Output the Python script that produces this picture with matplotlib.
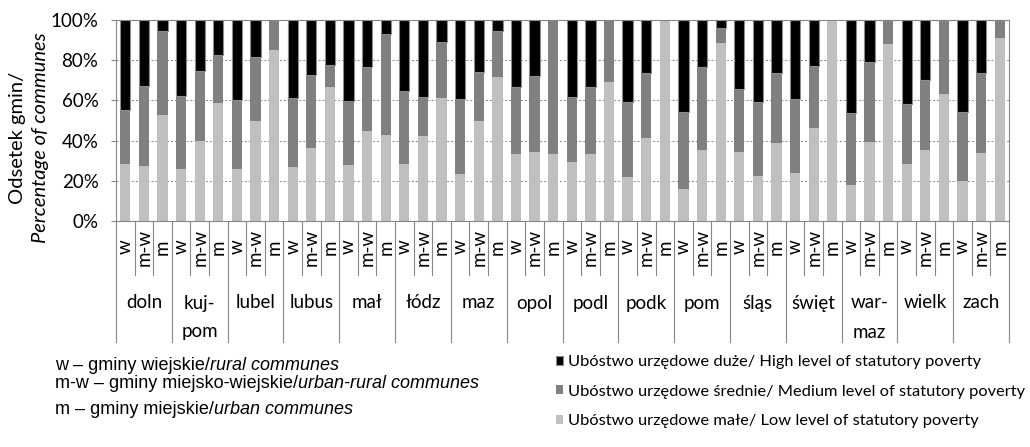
import matplotlib
matplotlib.use("Agg")
import matplotlib.pyplot as plt
import numpy as np

# data, % of communes
regions = ['doln', 'kuj-\npom', 'lubel', 'lubus', 'mał', 'łódz', 'maz', 'opol',
           'podl', 'podk', 'pom', 'śląs', 'święt', 'war-\nmaz', 'wielk', 'zach']
types = ['w', 'm-w', 'm']

low = [28.2, 27.2, 52.7, 26.1, 39.9, 58.8, 25.7, 49.8, 85.0, 26.9, 36.4, 66.6,
       27.9, 44.7, 42.7, 28.6, 42.2, 61.1, 23.4, 50.0, 71.6, 33.2, 34.2, 33.2,
       29.2, 33.2, 69.3, 21.9, 41.4, 100.0, 15.8, 35.2, 88.4, 34.2, 22.6, 38.7,
       23.9, 46.3, 100.0, 17.8, 39.4, 87.9, 28.2, 35.4, 63.1, 19.8, 33.9, 91.0]
medium = [26.9, 39.9, 41.8, 36.0, 34.5, 23.6, 34.4, 31.9, 15.0, 34.2, 36.4, 11.0,
          31.6, 31.9, 50.3, 36.2, 19.4, 27.8, 37.4, 24.3, 22.9, 33.6, 37.7, 66.8,
          32.6, 33.6, 30.7, 37.2, 32.4, 0.0, 38.2, 41.2, 7.6, 31.4, 36.7, 35.1,
          36.7, 30.8, 0.0, 35.7, 39.7, 12.1, 29.8, 34.7, 36.9, 34.2, 39.9, 9.0]
high = [44.9, 32.9, 5.5, 37.9, 25.6, 17.6, 39.9, 18.3, 0.0, 38.9, 27.2, 22.4,
        40.5, 23.4, 7.0, 35.2, 38.4, 11.1, 39.2, 25.7, 5.5, 33.2, 28.1, 0.0,
        38.2, 33.2, 0.0, 40.9, 26.2, 0.0, 46.0, 23.6, 4.0, 34.4, 40.7, 26.2,
        39.4, 22.9, 0.0, 46.5, 20.9, 0.0, 42.0, 29.9, 0.0, 46.0, 26.2, 0.0]

series_labels = ['Ubóstwo urzędowe duże/ High level of statutory poverty',
                 'Ubóstwo urzędowe średnie/ Medium level of statutory poverty',
                 'Ubóstwo urzędowe małe/ Low level of statutory poverty']
notes = [('w – gminy wiejskie/', 'rural communes'),
         ('m-w – gminy miejsko-wiejskie/', 'urban-rural communes'),
         ('m – gminy miejskie/', 'urban communes')]

W, H = 1030, 447
GRAY = '#868686'
FONT = 'Lato'

fig = plt.figure(figsize=(W / 100, H / 100), dpi=100)
ax = fig.add_axes([116 / W, 1 - 221 / H, (1009 - 116) / W, (221 - 20) / H])

x = np.arange(len(low))
low = np.array(low)
medium = np.array(medium)
high = np.array(high)
b_low = ax.bar(x, low, 0.55, color='#bfbfbf', zorder=2)
b_med = ax.bar(x, medium, 0.55, bottom=low, color='#808080', zorder=2)
b_high = ax.bar(x, high, 0.55, bottom=low + medium, color='black',
                edgecolor='#8c8c8c', linewidth=0.8, zorder=2)

ax.set_xlim(-0.5, len(low) - 0.5)
ax.set_ylim(0, 100)
ax.set_yticks(range(0, 101, 20))
ax.set_yticklabels([f'{v}%' for v in range(0, 101, 20)], fontfamily=FONT, fontsize=13.5)
ax.tick_params(axis='y', length=3.6, color=GRAY, width=0.8, pad=9)
ax.set_xticks([])
for s in ax.spines.values():
    s.set_color(GRAY)
    s.set_linewidth(0.8)
ax.yaxis.grid(True, color=GRAY, linestyle=(0, (2, 2)), linewidth=0.7, zorder=0)

# multi-level category axis
trans = ax.get_xaxis_transform()
def yfrac(py):
    return (221 - py) / 201

for g, reg in enumerate(regions):
    x0 = g * 3 - 0.5
    ax.plot([x0, x0], [0, yfrac(342)], transform=trans, clip_on=False,
            color=GRAY, lw=0.8)
    for k in (1, 2):
        ax.plot([x0 + k, x0 + k], [0, yfrac(275)], transform=trans,
                clip_on=False, color=GRAY, lw=0.8)
    for k, t in enumerate(types):
        ax.text(g * 3 + k, yfrac(247), t, transform=trans, rotation=90,
                ha='center', va='center', fontfamily=FONT, fontsize=13.5)
    for i, line in enumerate(reg.split('\n')):
        ax.text(g * 3 + 1, yfrac(303 + 29 * i), line, transform=trans,
                ha='center', va='center', fontfamily=FONT, fontsize=13.5)
xe = len(low) - 0.5
ax.plot([xe, xe], [0, yfrac(342)], transform=trans, clip_on=False, color=GRAY, lw=0.8)

# axis title
fig.text(18 / W, 1 - 138 / H, 'Odsetek gmin/', rotation=90, ha='center',
         va='center', fontfamily=FONT, fontsize=14.5)
fig.text(41 / W, 1 - 138 / H, 'Percentage of communes', rotation=90, ha='center',
         va='center', fontfamily=FONT, fontsize=14.5, style='italic')

# notes on the left
for (reg_txt, ital), py in zip(notes, [366, 384, 409]):
    t = fig.text(55 / W, 1 - py / H, reg_txt, ha='left', va='center',
                 fontfamily='Liberation Sans', fontsize=13)
    ax.annotate(ital, xy=(1, 0), xycoords=t, ha='left', va='bottom',
                fontfamily='Liberation Sans', fontsize=13, style='italic',
                annotation_clip=False)

fig.legend([b_high, b_med, b_low], series_labels, loc='upper left',
           bbox_to_anchor=(556 / W, 1 - 355 / H), frameon=False,
           prop={'family': FONT, 'size': 11.8}, handlelength=0.45,
           handleheight=0.45, handletextpad=0.3, labelspacing=0.95,
           borderaxespad=0, borderpad=0)

fig.savefig('out.png', dpi=100)
